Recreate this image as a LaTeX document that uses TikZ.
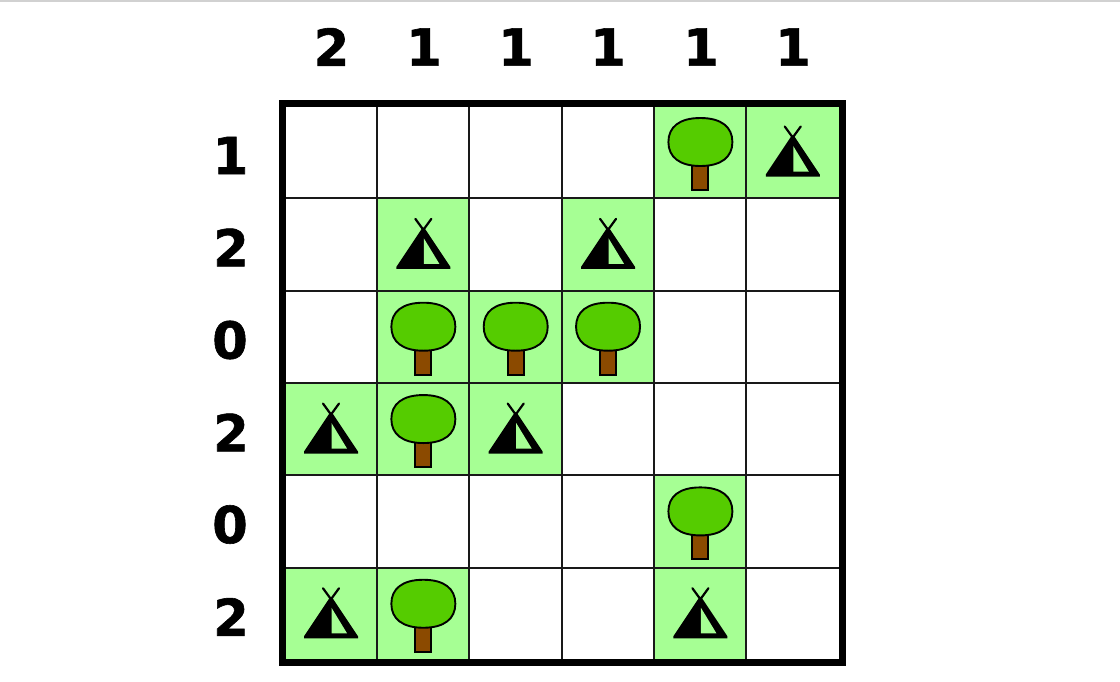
\documentclass[tikz,border=0pt]{standalone}
\usepackage{fontspec}
\setmainfont[BoldFeatures={FakeBold=1.2}]{DejaVu Sans}
\definecolor{cellgreen}{HTML}{A6FF94}
\definecolor{crown}{HTML}{55CC00}
\definecolor{trunk}{HTML}{8B4A00}
\tikzset{
  x=1pt,y=-1pt,
  thin grid/.style={line width=1.9pt,black!90},
  outer/.style={line width=7pt,black,line join=miter},
  numlabel/.style={font=\bfseries\fontsize{51}{51}\selectfont,inner sep=0pt,anchor=center},
  pics/treeicon/.style={code={
    \draw[black,line width=1.9pt,fill=trunk] (-8,13) rectangle (8,38);
    \draw[black,line width=1.9pt,fill=crown]
      (0,-34) .. controls (-21,-34) and (-32,-25) .. (-32,-10)
      .. controls (-32,5) and (-21,14) .. (0,14)
      .. controls (21,14) and (32,5) .. (32,-10)
      .. controls (32,-25) and (21,-34) .. (0,-34) -- cycle;
  }},
  pics/tenticon/.style={code={
    \draw[black,line width=2.2pt,line cap=round] (-8,-25.5) -- (4,-9);
    \draw[black,line width=2.2pt,line cap=round] (8,-25.5) -- (-4,-9);
    \fill[black] (0,-17) -- (2,-15) -- (27,22.5) -- (27,24.5) -- (-27,24.5) -- (-27,22.5) -- (-2,-15) -- cycle;
    \fill[cellgreen] (0.5,-6) -- (0.5,19.5) -- (16,19.5) -- cycle;
  }}
}
\begin{document}
\begin{tikzpicture}
\useasboundingbox (0,0) rectangle (1120,681);
\fill[white] (0,0) rectangle (1120,681);
\fill[black!18] (0,0) rectangle (1120,2);
% green cells: column, row
\foreach \c/\r in {4/0,5/0,1/1,3/1,1/2,2/2,3/2,0/3,1/3,2/3,4/4,0/5,1/5,4/5}
  \fill[cellgreen] ({284.5+92.35*\c},{106+92.35*\r}) rectangle ++(92.35,92.35);
% grid
\foreach \i in {1,...,5} {
  \draw[thin grid] ({284.5+92.35*\i},103) -- ({284.5+92.35*\i},662);
  \draw[thin grid] (282,{106+92.35*\i}) -- (842,{106+92.35*\i});
}
\draw[outer] (282,103.5) rectangle (842,662);
% trees
\foreach \c/\r in {4/0,1/2,2/2,3/2,1/3,4/4,1/5}
  \pic at ({331+92.35*\c},{152+92.35*\r}) {treeicon};
% tents
\foreach \c/\r in {5/0,1/1,3/1,0/3,2/3,0/5,4/5}
  \pic at ({331+92.35*\c},{152+92.35*\r}) {tenticon};
% column labels
\node[numlabel] (c0) at (331.5,47) {2};
\node[numlabel] (c1) at (424,47) {1};
\node[numlabel] (c2) at (516,47) {1};
\node[numlabel] (c3) at (608,47) {1};
\node[numlabel] (c4) at (701,47) {1};
\node[numlabel] (c5) at (793,47) {1};
% row labels
\node[numlabel] (r0) at (230.5,155.5) {1};
\node[numlabel] (r1) at (231,247.5) {2};
\node[numlabel] (r2) at (230,340) {0};
\node[numlabel] (r3) at (231,432.5) {2};
\node[numlabel] (r4) at (230,524.5) {0};
\node[numlabel] (r5) at (231,617) {2};
\end{tikzpicture}
\end{document}
